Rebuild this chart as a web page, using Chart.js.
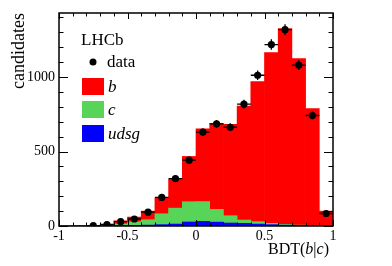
<!DOCTYPE html>
<html>
<head>
<meta charset="utf-8">
<script src="https://cdn.jsdelivr.net/npm/chart.js@4.4.1/dist/chart.umd.min.js"></script>
<style>
    html, body { margin: 0; padding: 0; background: #fff; }
</style>
</head>
<body>
<canvas id="bdtChart" width="392" height="266"></canvas>
<script>
// BDT(b|c) bins, width 0.1, from -1 to 1
let binCenters = [-0.95, -0.85, -0.75, -0.65, -0.55, -0.45, -0.35, -0.25, -0.15, -0.05,
                  0.05, 0.15, 0.25, 0.35, 0.45, 0.55, 0.65, 0.75, 0.85, 0.95];

// stacked templates (bottom to top: udsg, c, b)
let udsgValues = [0, 1, 1, 1, 3, 4, 6, 9, 13, 27, 31, 26, 20, 18, 13, 9, 6, 4, 3, 1];
let cValues = [0, 0, 1, 3, 11, 24, 36, 73, 107, 136, 133, 85, 49, 22, 16, 9, 5, 2, 1, 1];
let bValues = [1, 1, 2, 5, 21, 32, 58, 106, 195, 304, 488, 579, 613, 765, 940, 1147, 1315, 1118, 785, 98];

// data points and their vertical errors
let dataValues = [null, null, 3, 10, 29, 47, 93, 192, 318, 442, 630, 686, 663, 818, 1012, 1218, 1318, 1080, 742, 84];
let dataErrors = [0, 0, 2, 3, 5, 7, 10, 14, 18, 21, 25, 26, 26, 29, 32, 35, 36, 33, 27, 9];

let xTicks = [-1, -0.5, 0, 0.5, 1];
let yTicks = [0, 500, 1000];

const SERIF = "'Liberation Serif', 'DejaVu Serif', serif";

function toPoints(values) {
    return values.map((v, i) => ({ x: binCenters[i], y: v }));
}

// Frame with inward ticks on all four sides
let frameTicks = {
    id: "frameTicks",
    afterDraw(chart) {
        let ctx = chart.ctx;
        let a = chart.chartArea;
        let xs = chart.scales.x;
        let ys = chart.scales.y;
        ctx.save();
        ctx.strokeStyle = "#000";
        ctx.lineWidth = 1;
        ctx.beginPath();
        for (let i = 0; i <= 20; i++) {
            let px = Math.round(xs.getPixelForValue(-1 + i * 0.1)) + 0.5;
            let len = (i % 5 === 0) ? 6 : 3.5;
            ctx.moveTo(px, a.bottom); ctx.lineTo(px, a.bottom - len);
            ctx.moveTo(px, a.top); ctx.lineTo(px, a.top + len);
        }
        for (let v = 0; v <= 1400; v += 100) {
            let py = Math.round(ys.getPixelForValue(v)) + 0.5;
            let len = (v % 500 === 0) ? 9 : 4.5;
            ctx.moveTo(a.left, py); ctx.lineTo(a.left + len, py);
            ctx.moveTo(a.right, py); ctx.lineTo(a.right - len, py);
        }
        ctx.stroke();
        ctx.lineWidth = 1.5;
        ctx.strokeRect(a.left, a.top, a.right - a.left, a.bottom - a.top);
        ctx.restore();
    }
};

// Error bars on the data points
let errorBars = {
    id: "errorBars",
    afterDatasetsDraw(chart) {
        let ctx = chart.ctx;
        let xs = chart.scales.x;
        let ys = chart.scales.y;
        ctx.save();
        ctx.strokeStyle = "#000";
        ctx.lineWidth = 1.3;
        ctx.beginPath();
        dataValues.forEach((v, i) => {
            if (v === null) return;
            let cx = xs.getPixelForValue(binCenters[i]);
            let cy = ys.getPixelForValue(v);
            ctx.moveTo(xs.getPixelForValue(binCenters[i] - 0.05), cy);
            ctx.lineTo(xs.getPixelForValue(binCenters[i] + 0.05), cy);
            ctx.moveTo(cx, ys.getPixelForValue(v - dataErrors[i]));
            ctx.lineTo(cx, ys.getPixelForValue(v + dataErrors[i]));
        });
        ctx.stroke();
        ctx.restore();
    }
};

// Axis titles and the LHCb legend
let labels = {
    id: "labels",
    afterDraw(chart) {
        let ctx = chart.ctx;
        let a = chart.chartArea;
        let ds = chart.data.datasets;
        ctx.save();
        ctx.fillStyle = "#000";
        ctx.textBaseline = "alphabetic";

        // y title
        ctx.save();
        ctx.translate(24, a.top);
        ctx.rotate(-Math.PI / 2);
        ctx.textAlign = "right";
        ctx.font = "18px " + SERIF;
        ctx.fillText("candidates", 0, 0);
        ctx.restore();

        // x title with italic b and c
        let parts = [["BDT(", false], ["b", true], ["|", false], ["c", true], [")", false]];
        let width = 0;
        parts.forEach(p => {
            ctx.font = (p[1] ? "italic " : "") + "16px " + SERIF;
            width += ctx.measureText(p[0]).width;
        });
        let x = a.right - 4 - width;
        ctx.textAlign = "left";
        parts.forEach(p => {
            ctx.font = (p[1] ? "italic " : "") + "16px " + SERIF;
            ctx.fillText(p[0], x, 254);
            x += ctx.measureText(p[0]).width;
        });

        // legend
        ctx.font = "17px " + SERIF;
        ctx.fillText("LHCb", 81, 45);
        ctx.beginPath();
        ctx.arc(93, 62, 3.5, 0, Math.PI * 2);
        ctx.fill();
        ctx.fillText("data", 107, 67);
        let entries = [[ds[2], "b", 78], [ds[1], "c", 101], [ds[0], "udsg", 125]];
        entries.forEach(e => {
            ctx.fillStyle = e[0].backgroundColor;
            ctx.fillRect(82, e[2], 22, 17);
            ctx.fillStyle = "#000";
            ctx.font = "italic 17px " + SERIF;
            ctx.fillText(e[1], 108, e[2] + 14);
        });
        ctx.restore();
    }
};

let ctx = document.getElementById("bdtChart").getContext("2d");

let barStyle = {
    type: "bar",
    stack: "mc",
    order: 1,
    borderWidth: 0,
    barPercentage: 1.0,
    categoryPercentage: 1.0
};

window.bdtChart = new Chart(ctx, {
    type: "bar",
    data: {
        datasets: [
            Object.assign({ label: "udsg", data: toPoints(udsgValues), backgroundColor: "#0000ff" }, barStyle),
            Object.assign({ label: "c", data: toPoints(cValues), backgroundColor: "#58d558" }, barStyle),
            Object.assign({ label: "b", data: toPoints(bValues), backgroundColor: "#ff0000" }, barStyle),
            {
                type: "line",
                label: "data",
                stack: "data",
                order: 0,
                data: toPoints(dataValues),
                showLine: false,
                pointRadius: 3.6,
                pointBackgroundColor: "#000",
                pointBorderWidth: 0,
                spanGaps: false
            }
        ]
    },
    options: {
        responsive: false,
        animation: false,
        layout: { padding: { top: 13, right: 59, left: 0, bottom: 0 } },
        plugins: {
            legend: { display: false },
            tooltip: { enabled: false }
        },
        scales: {
            x: {
                type: "linear",
                min: -1,
                max: 1,
                offset: false,
                stacked: true,
                grid: { display: false, offset: false, drawTicks: false },
                border: { display: false },
                afterBuildTicks: scale => { scale.ticks = xTicks.map(v => ({ value: v })); },
                afterFit: scale => { scale.height = 40; },
                ticks: {
                    autoSkip: false,
                    maxRotation: 0,
                    padding: 2,
                    color: "#000",
                    font: { family: SERIF, size: 14 },
                    callback: v => String(v)
                }
            },
            y: {
                type: "linear",
                min: 0,
                max: 1430,
                stacked: true,
                grid: { display: false, drawTicks: false },
                border: { display: false },
                afterBuildTicks: scale => { scale.ticks = yTicks.map(v => ({ value: v })); },
                afterFit: scale => { scale.width = 59; },
                ticks: {
                    padding: 4,
                    color: "#000",
                    font: { family: SERIF, size: 14 },
                    callback: v => String(v)
                }
            }
        }
    },
    plugins: [errorBars, frameTicks, labels]
});
</script>
</body>
</html>
